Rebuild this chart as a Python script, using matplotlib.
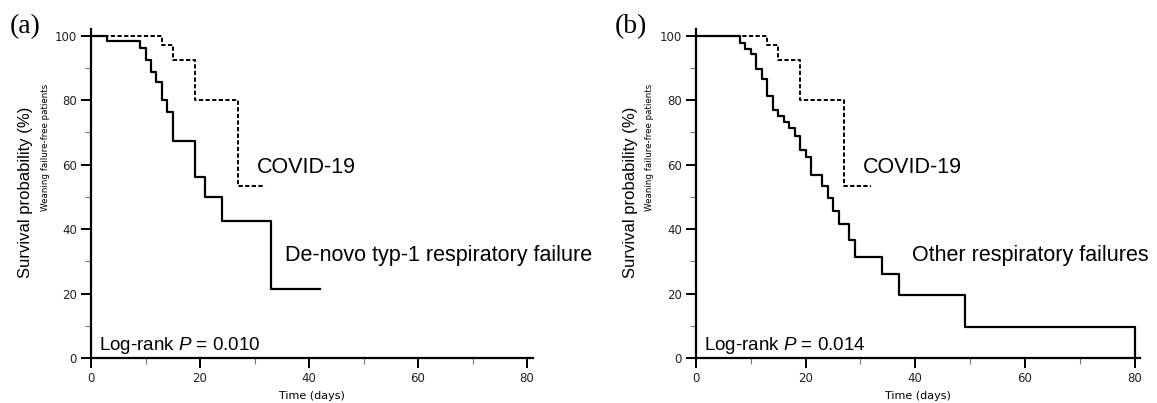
import matplotlib
matplotlib.use("Agg")
import matplotlib.pyplot as plt
from matplotlib.ticker import MultipleLocator

plt.rcParams["mathtext.fontset"] = "custom"
plt.rcParams["mathtext.rm"] = "Liberation Sans"
plt.rcParams["mathtext.it"] = "Liberation Sans:italic"

# data (days, survival %)
covid_days = [0, 13, 15, 19, 27, 32]
covid_surv = [100, 97.2, 92.6, 80.2, 53.5, 53.5]

denovo_days = [0, 3, 9, 10, 11, 12, 13, 14, 15, 19, 21, 24, 33, 42]
denovo_surv = [100, 98.4, 96.3, 92.6, 88.7, 85.6, 80.0, 76.4, 67.3, 56.2, 49.9, 42.7, 21.4, 21.4]

other_days = [0, 8, 9, 10, 11, 12, 13, 14, 15, 16, 17, 18, 19, 20, 21, 23, 24, 25, 26,
              28, 29, 34, 37, 49, 80]
other_surv = [100, 97.8, 96.0, 94.4, 89.8, 86.5, 81.4, 76.9, 75.0, 73.1, 71.4, 69.0, 64.7,
              62.3, 56.8, 53.3, 49.6, 45.6, 41.7, 36.6, 31.4, 26.0, 19.5, 9.7, 0]

panels = [
    ("(a)", denovo_days, denovo_surv, "De-novo typ-1 respiratory failure", "0.010"),
    ("(b)", other_days, other_surv, "Other respiratory failures", "0.014"),
]

fig = plt.figure(figsize=(11.57, 4.03), dpi=100)
lefts = [91 / 1157, 696 / 1157]
widths = [441.5 / 1157, 444 / 1157]

for i, (tag, days, surv, name, pval) in enumerate(panels):
    ax = fig.add_axes([lefts[i], 0.111, widths[i], 0.8164])
    ax.step(days, surv, where="post", color="black", lw=1.6)
    ax.step(covid_days, covid_surv, where="post", color="black", lw=1.4,
            linestyle=(0, (2.2, 1.2)))

    ax.set_xlim(0, 81)
    ax.set_ylim(0, 102)
    for s in ["top", "right"]:
        ax.spines[s].set_visible(False)
    for s in ["left", "bottom"]:
        ax.spines[s].set_linewidth(1.6)
    ax.xaxis.set_major_locator(MultipleLocator(20))
    ax.xaxis.set_minor_locator(MultipleLocator(10))
    ax.yaxis.set_major_locator(MultipleLocator(20))
    ax.yaxis.set_minor_locator(MultipleLocator(10))
    ax.tick_params(which="major", direction="out", length=7, width=1.4,
                   labelsize=8.5, labelcolor="#222222", pad=3)
    ax.tick_params(which="minor", direction="out", length=4, width=0.8, color="#777777")

    ax.set_xlabel("Time (days)", fontsize=8, labelpad=4)

    ax.text(30.5, 57.5, "COVID-19", fontsize=15.5, family="Liberation Sans")
    ax.text(35.6 if i == 0 else 39.4, 30, name, fontsize=15.5, family="Liberation Sans")
    ax.text(1.5, 2.7, "Log-rank $P$ = " + pval, fontsize=13.5,
            family="Liberation Sans")

    # two-line y label: main title plus small subtitle
    x0 = lefts[i] * 1157
    fig.text((x0 - 65) / 1157, 1 - 192 / 403, "Survival probability (%)", rotation=90,
             ha="center", va="center", fontsize=12, family="Liberation Sans")
    fig.text((x0 - 46) / 1157, 1 - 147 / 403, "Weaning failure-free patients",
             rotation=90, ha="center", va="center", fontsize=6.3)

    fig.text((x0 - 81) / 1157, 1 - 33 / 403, tag, fontsize=20, family="Liberation Serif")

fig.savefig("out.png", dpi=100)
